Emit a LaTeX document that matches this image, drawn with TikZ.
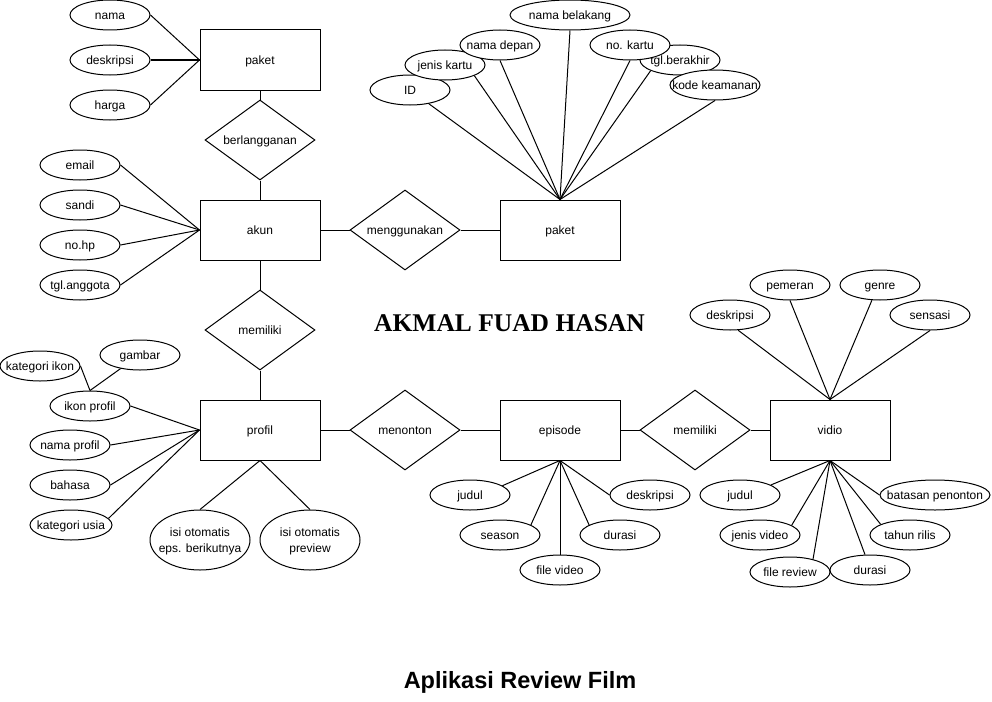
\documentclass[tikz,border=0pt]{standalone}
\usepackage{fontspec}
\setmainfont{Liberation Sans}
\newfontfamily\titleserif{Liberation Serif}
\usetikzlibrary{shapes.geometric}
\newcommand\attrf{\fontsize{12}{16}\selectfont}
\tikzset{
  txt/.style={font=\attrf, text height=10pt, text depth=1.6pt},
  attr/.style={ellipse, draw, fill=white, line width=1pt, minimum width=80pt, minimum height=30pt, inner sep=0pt,
     label={[txt, align=center, inner sep=0pt]center:#1}},
  attrtwo/.style={ellipse, draw, fill=white, line width=1pt, minimum width=100pt, minimum height=60pt, inner sep=0pt,
     label={[font=\attrf, text height=26pt, text depth=1.6pt, align=center, inner sep=0pt]center:#1}},
  ent/.style={rectangle, draw, fill=white, line width=1pt, minimum width=120pt, minimum height=60pt, inner sep=0pt, txt},
  rel/.style={diamond, draw, fill=white, line width=1pt, minimum width=110pt, minimum height=80pt, inner sep=0pt, aspect=1.375, txt},
  conn/.style={line width=1pt},
}
\begin{document}
\begin{tikzpicture}[x=1pt,y=-1pt]
\useasboundingbox (0,0) rectangle (992,701);

% ---------- paket (top-left) ----------
\node[ent] (p1) at (260,60) {paket};
\node[attr=nama] (nama) at (110,15) {};
\node[attr=deskripsi] (desk1) at (110,60) {};
\node[attr=harga] (harga) at (110,105) {};
\draw[conn] (nama.east) -- (p1.west);
\draw[conn] (desk1.east) -- (p1.west);
\draw[conn] (harga.east) -- (p1.west);

\node[rel] (r1) at (260,140) {berlangganan};
\draw[conn] (p1.south) -- (r1.north);

% ---------- akun ----------
\node[ent] (akun) at (260,230) {akun};
\draw[conn] (r1.south) -- (akun.north);
\node[attr=email] (email) at (80,165) {};
\node[attr=sandi] (sandi) at (80,205) {};
\node[attr=no.hp] (nohp) at (80,245) {};
\node[attr=tgl.anggota] (tgla) at (80,285) {};
\draw[conn] (email.east) -- (akun.west);
\draw[conn] (sandi.east) -- (akun.west);
\draw[conn] (nohp.east) -- (akun.west);
\draw[conn] (tgla.east) -- (akun.west);

\node[rel] (r2) at (405,230) {menggunakan};
\node[ent] (p2) at (560,230) {paket};
\draw[conn] (akun.east) -- (r2.west);
\draw[conn] (r2.east) -- (p2.west);

% ---------- paket (top-right) attributes ----------
\node[attr=ID] (id) at (410,90) {};
\node[attr=jenis kartu] (jk) at (445,65) {};
\node[attr=nama depan] (nd) at (500,45) {};
\node[attr=nama belakang, minimum width=120pt] (nb) at (570,15) {};
\node[attr=tgl.berakhir] (tb) at (680,60) {};
\node[attr=no. kartu] (nk) at (630,45) {};
\node[attr=kode keamanan, minimum width=90pt] (kk) at (715,85) {};
\draw[conn] (id) -- (p2.north);
\draw[conn] (jk.-20) -- (p2.north);
\draw[conn] (nd.south) -- (p2.north);
\draw[conn] (nb.south) -- (p2.north);
\draw[conn] (nk.south) -- (p2.north);
\draw[conn] (tb.-160) -- (p2.north);
\draw[conn] (kk.south) -- (p2.north);

% ---------- profil ----------
\node[rel] (r3) at (260,330) {memiliki};
\node[ent] (prof) at (260,430) {profil};
\draw[conn] (akun.south) -- (r3.north);
\draw[conn] (r3.south) -- (prof.north);

\node[attr=kategori ikon] (ki) at (40,366) {};
\node[attr=gambar] (gb) at (140,355) {};
\node[attr=ikon profil] (ikp) at (90,406) {};
\node[attr=nama profil] (np) at (70,445) {};
\node[attr=bahasa] (bh) at (70,485) {};
\node[attr=kategori usia, minimum width=82pt] (ku) at (71,525) {};
\node[attrtwo={isi otomatis\\eps. berikutnya}] (ie) at (200,540) {};
\node[attrtwo={isi otomatis\\preview}] (ipv) at (310,540) {};
\draw[conn] (ki.east) -- (ikp.north);
\draw[conn] (gb.-145) -- (ikp.north);
\draw[conn] (ikp.east) -- (prof.west);
\draw[conn] (np.east) -- (prof.west);
\draw[conn] (bh.east) -- (prof.west);
\draw[conn] (ku.10) -- (prof.west);
\draw[conn] (ie.north) -- (prof.south);
\draw[conn] (ipv.north) -- (prof.south);

% ---------- episode ----------
\node[rel] (r4) at (405,430) {menonton};
\node[ent] (ep) at (560,430) {episode};
\draw[conn] (prof.east) -- (r4.west);
\draw[conn] (r4.east) -- (ep.west);

\node[attr=judul] (ej) at (470,495) {};
\node[attr=season] (es) at (500,535) {};
\node[attr=file video] (ef) at (560,570) {};
\node[attr=durasi] (ed) at (620,535) {};
\node[attr=deskripsi] (eds) at (650,495) {};
\draw[conn] (ej.16) -- (ep.south);
\draw[conn] (es.18) -- (ep.south);
\draw[conn] (ef.north) -- (ep.south);
\draw[conn] (ed.162) -- (ep.south);
\draw[conn] (eds.west) -- (ep.south);

% ---------- vidio ----------
\node[rel] (r5) at (695,430) {memiliki};
\node[ent] (vid) at (830,430) {vidio};
\draw[conn] (ep.east) -- (r5.west);
\draw[conn] (r5.east) -- (vid.west);

\node[attr=deskripsi] (vd) at (730,315) {};
\node[attr=pemeran] (vp) at (790,285) {};
\node[attr=genre] (vg) at (880,285) {};
\node[attr=sensasi] (vs) at (930,315) {};
\draw[conn] (vd.-62) -- (vid.north);
\draw[conn] (vp.south) -- (vid.north);
\draw[conn] (vg.-118) -- (vid.north);
\draw[conn] (vs.south) -- (vid.north);

\node[attr=judul] (vj) at (740,495) {};
\node[attr=jenis video] (vjv) at (760,535) {};
\node[attr=file review] (vfr) at (790,572) {};
\node[attr=durasi] (vdu) at (870,570) {};
\node[attr=tahun rilis] (vt) at (910,535) {};
\node[attr=batasan penonton, minimum width=110pt] (vb) at (935,495) {};
\draw[conn] (vj.18) -- (vid.south);
\draw[conn] (vjv.17) -- (vid.south);
\draw[conn] (vfr.29) -- (vid.south);
\draw[conn] (vdu.108) -- (vid.south);
\draw[conn] (vt.160) -- (vid.south);
\draw[conn] (vb.west) -- (vid.south);

% ---------- titles ----------
\node[font=\titleserif\bfseries\fontsize{25.5}{30}\selectfont, anchor=base, inner sep=0pt] (author) at (509.5,331.5) {AKMAL FUAD HASAN};
\node[font=\bfseries\fontsize{23.5}{28}\selectfont, anchor=base, inner sep=0pt] (apptitle) at (520,688) {Aplikasi Review Film};
\end{tikzpicture}
\end{document}
